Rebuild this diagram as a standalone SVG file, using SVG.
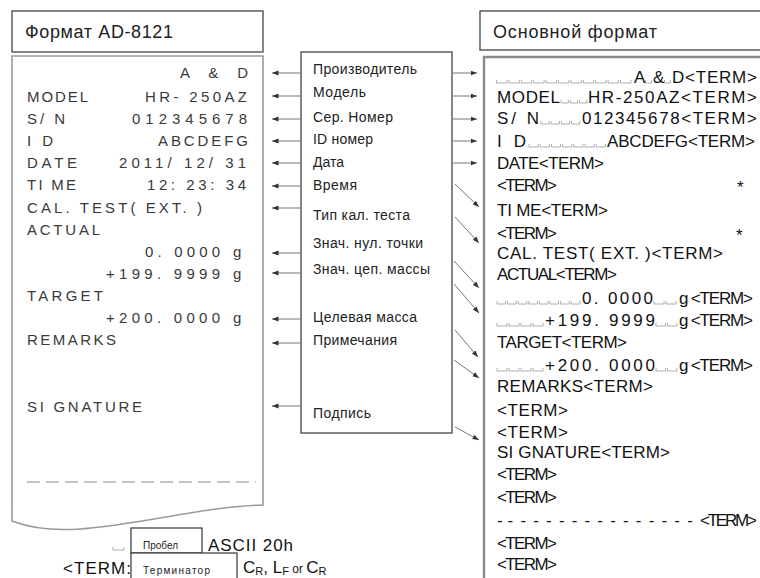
<svg xmlns="http://www.w3.org/2000/svg" width="760" height="578" viewBox="0 0 760 578">
<defs>
<marker id="ah" markerWidth="7" markerHeight="6" refX="6.5" refY="3" orient="auto" markerUnits="userSpaceOnUse">
<path d="M0,0.6 L6.5,3 L0,5.4 z" fill="#333"/>
</marker>
<style>
text{font-family:"Liberation Sans",Arial,sans-serif}
.hd{font-size:18px;fill:#222}
.lp{font-size:15px;fill:#3a3a3a}
.mid{font-size:14px;fill:#222}
.rp{font-size:17px;fill:#111}
.sm{font-size:10px;fill:#222}
.box{fill:#fff;stroke:#444;stroke-width:1.3}
.paper{fill:#fff;stroke:#9a9a9a;stroke-width:1.6}
.conn line{stroke:#666;stroke-width:0.9;fill:none;marker-end:url(#ah)}
.sp{stroke:#999;stroke-width:0.8;fill:none}
</style>
</defs>
<rect width="760" height="578" fill="#fff"/>

<g id="left-header">
<rect class="box" x="12" y="11" width="251" height="41"/>
<text class="hd" x="25" y="38" textLength="148">Формат AD-8121</text>
</g>

<g id="left-panel">
<path class="paper" d="M12,56 H263 V505 C200,507 140,525 80,529 C50,531 30,528 12,521 Z"/>
<text class="lp" x="180" y="78" textLength="68">A &amp; D</text>
<text class="lp" x="27" y="102" textLength="61">MODEL</text>
<text class="lp" x="145" y="102" textLength="102">HR- 250AZ</text>
<text class="lp" x="27" y="124" textLength="38">S/ N</text>
<text class="lp" x="132" y="124" textLength="115">012345678</text>
<text class="lp" x="27" y="146" textLength="26">I D</text>
<text class="lp" x="158" y="146" textLength="90">ABCDEFG</text>
<text class="lp" x="27" y="168" textLength="50">DATE</text>
<text class="lp" x="119" y="168" textLength="127">2011/ 12/ 31</text>
<text class="lp" x="27" y="190" textLength="49">TI ME</text>
<text class="lp" x="147" y="190" textLength="99">12: 23: 34</text>
<text class="lp" x="27" y="213" textLength="175">CAL. TEST( EXT. )</text>
<text class="lp" x="27" y="235" textLength="73">ACTUAL</text>
<text class="lp" x="145" y="257" textLength="75">0. 0000</text>
<text class="lp" x="233" y="257">g</text>
<text class="lp" x="106" y="279" textLength="114">+199. 9999</text>
<text class="lp" x="233" y="279">g</text>
<text class="lp" x="27" y="301" textLength="76">TARGET</text>
<text class="lp" x="106" y="323" textLength="114">+200. 0000</text>
<text class="lp" x="233" y="323">g</text>
<text class="lp" x="27" y="345" textLength="89">REMARKS</text>
<text class="lp" x="27" y="412" textLength="115">SI GNATURE</text>
<line x1="27" y1="482" x2="256" y2="482" stroke="#8a8a8a" stroke-width="1" stroke-dasharray="13 6"/>
</g>

<g id="middle-box">
<rect class="box" x="301" y="52" width="151" height="381"/>
<text class="mid" x="313" y="74" textLength="104">Производитель</text>
<text class="mid" x="313" y="97" textLength="53">Модель</text>
<text class="mid" x="313" y="122" textLength="80">Сер. Номер</text>
<text class="mid" x="313" y="144" textLength="60">ID номер</text>
<text class="mid" x="313" y="167" textLength="31">Дата</text>
<text class="mid" x="313" y="190" textLength="44">Время</text>
<text class="mid" x="313" y="220" textLength="97">Тип кал. теста</text>
<text class="mid" x="313" y="248" textLength="110">Знач. нул. точки</text>
<text class="mid" x="313" y="274" textLength="117">Знач. цеп. массы</text>
<text class="mid" x="313" y="322" textLength="104">Целевая масса</text>
<text class="mid" x="313" y="345" textLength="84">Примечания</text>
<text class="mid" x="313" y="418" textLength="58">Подпись</text>
</g>

<g id="right-header">
<rect class="box" x="480" y="11" width="290" height="39"/>
<text class="hd" x="493" y="38" textLength="164">Основной формат</text>
</g>

<g id="right-panel">
<path d="M770,57 H484 V580" fill="none" stroke="#8a8a8a" stroke-width="2.4"/>
<path class="sp" d="M496.5,80 v3h10.4v-3m2,0v3h10.4v-3m2,0v3h10.4v-3m2,0v3h10.4v-3m2,0v3h10.4v-3m2,0v3h10.4v-3m2,0v3h10.4v-3m2,0v3h10.4v-3m2,0v3h10.4v-3m2,0v3h10.4v-3m2,0v3h10.4v-3 M645.5,80v3h6v-3 M664.5,80v3h6v-3"/>
<text class="rp" x="634" y="83" textLength="11">A</text>
<text class="rp" x="653" y="83" textLength="11">&amp;</text>
<text class="rp" x="672" y="83" textLength="85">D&lt;TERM&gt;</text>

<text class="rp" x="497" y="103" textLength="63">MODEL</text>
<path class="sp" d="M561,100 v3h7.3v-3m2,0v3h7.3v-3m2,0v3h7.3v-3"/>
<text class="rp" x="588" y="103" textLength="169">HR-250AZ&lt;TERM&gt;</text>

<text class="rp" x="497" y="124" textLength="42">S/ N</text>
<path class="sp" d="M541,121 v3h8.2v-3m2,0v3h8.2v-3m2,0v3h8.2v-3m2,0v3h8.2v-3"/>
<text class="rp" x="582" y="124" textLength="175">012345678&lt;TERM&gt;</text>

<text class="rp" x="497" y="147" textLength="29">I D</text>
<path class="sp" d="M529,144 v3h9.2v-3m2,0v3h9.2v-3m2,0v3h9.2v-3m2,0v3h9.2v-3m2,0v3h9.2v-3m2,0v3h9.2v-3m2,0v3h9.2v-3"/>
<text class="rp" x="607" y="147" textLength="148">ABCDEFG&lt;TERM&gt;</text>

<text class="rp" x="497" y="169" textLength="107">DATE&lt;TERM&gt;</text>
<text class="rp" x="497" y="191" textLength="60">&lt;TERM&gt;</text>
<text class="rp" x="737" y="193">*</text>
<text class="rp" x="497" y="216" textLength="111">TI ME&lt;TERM&gt;</text>
<text class="rp" x="497" y="239" textLength="60">&lt;TERM&gt;</text>
<text class="rp" x="736" y="241">*</text>
<text class="rp" x="497" y="259" textLength="226">CAL. TEST( EXT. )&lt;TERM&gt;</text>
<text class="rp" x="497" y="280" textLength="120">ACTUAL&lt;TERM&gt;</text>

<path class="sp" d="M497,301 v3h8.6v-3m2,0v3h8.6v-3m2,0v3h8.6v-3m2,0v3h8.6v-3m2,0v3h8.6v-3m2,0v3h8.6v-3m2,0v3h8.6v-3m2,0v3h8.6v-3 M654,301 v3h10v-3m2,0v3h10v-3"/>
<text class="rp" x="582" y="304" textLength="71">0. 0000</text>
<text class="rp" x="679" y="304" textLength="74">g &lt;TERM&gt;</text>

<path class="sp" d="M497,323 v3h10v-3m2,0v3h10v-3m2,0v3h10v-3m2,0v3h10v-3 M656,323 v3h9.5v-3m2,0v3h9.5v-3"/>
<text class="rp" x="545" y="326" textLength="110">+199. 9999</text>
<text class="rp" x="679" y="326" textLength="74">g &lt;TERM&gt;</text>

<text class="rp" x="497" y="348" textLength="130">TARGET&lt;TERM&gt;</text>

<path class="sp" d="M497,368 v3h10v-3m2,0v3h10v-3m2,0v3h10v-3m2,0v3h10v-3 M656,368 v3h9.5v-3m2,0v3h9.5v-3"/>
<text class="rp" x="545" y="371" textLength="110">+200. 0000</text>
<text class="rp" x="679" y="371" textLength="74">g &lt;TERM&gt;</text>

<text class="rp" x="497" y="392" textLength="156">REMARKS&lt;TERM&gt;</text>
<text class="rp" x="497" y="416" textLength="71">&lt;TERM&gt;</text>
<text class="rp" x="497" y="438" textLength="71">&lt;TERM&gt;</text>
<text class="rp" x="497" y="458" textLength="173">SI GNATURE&lt;TERM&gt;</text>
<text class="rp" x="497" y="480" textLength="60">&lt;TERM&gt;</text>
<text class="rp" x="497" y="503" textLength="60">&lt;TERM&gt;</text>
<text class="rp" x="497" y="526" textLength="260"><tspan textLength="198">----------------</tspan>&lt;TERM&gt;</text>
<text class="rp" x="497" y="549" textLength="60">&lt;TERM&gt;</text>
<text class="rp" x="497" y="570" textLength="60">&lt;TERM&gt;</text>
</g>

<g id="legend">
<path class="sp" d="M113,547v3h11v-3"/>
<rect class="box" x="131" y="528" width="71" height="25"/>
<text class="sm" x="143" y="549">Пробел</text>
<text class="rp" x="208" y="551" textLength="85">ASCII 20h</text>
<text class="rp" x="63" y="574" textLength="68">&lt;TERM:</text>
<rect class="box" x="131" y="553" width="106" height="30"/>
<text class="sm" x="143" y="574" textLength="67">Терминатор</text>
<text class="rp" x="243" y="573">C<tspan font-size="11" dy="2">R</tspan><tspan dy="-2">, L</tspan><tspan font-size="11" dy="2">F</tspan><tspan font-size="12" dy="-2"> or </tspan>C<tspan font-size="11" dy="2">R</tspan></text>
</g>

<g id="connectors" class="conn">
<line x1="300" y1="73" x2="272" y2="73"/>
<line x1="300" y1="96" x2="272" y2="96"/>
<line x1="300" y1="119" x2="272" y2="119"/>
<line x1="300" y1="141" x2="272" y2="141"/>
<line x1="300" y1="163" x2="272" y2="163"/>
<line x1="300" y1="186" x2="272" y2="186"/>
<line x1="300" y1="208" x2="272" y2="208"/>
<line x1="300" y1="253" x2="272" y2="253"/>
<line x1="300" y1="273" x2="272" y2="273"/>
<line x1="300" y1="319" x2="272" y2="319"/>
<line x1="300" y1="343" x2="272" y2="343"/>
<line x1="300" y1="406" x2="272" y2="406"/>
<line x1="453" y1="73" x2="477" y2="73"/>
<line x1="453" y1="96" x2="477" y2="96"/>
<line x1="453" y1="119" x2="477" y2="119"/>
<line x1="453" y1="141" x2="477" y2="141"/>
<line x1="453" y1="163" x2="477" y2="163"/>
<line x1="455" y1="184" x2="479" y2="207"/>
<line x1="455" y1="217" x2="479" y2="243"/>
<line x1="454" y1="261" x2="479" y2="288"/>
<line x1="454" y1="284" x2="479" y2="313"/>
<line x1="455" y1="330" x2="478" y2="357"/>
<line x1="454" y1="360" x2="479" y2="378"/>
<line x1="455" y1="427" x2="479" y2="440"/>
</g>
</svg>
